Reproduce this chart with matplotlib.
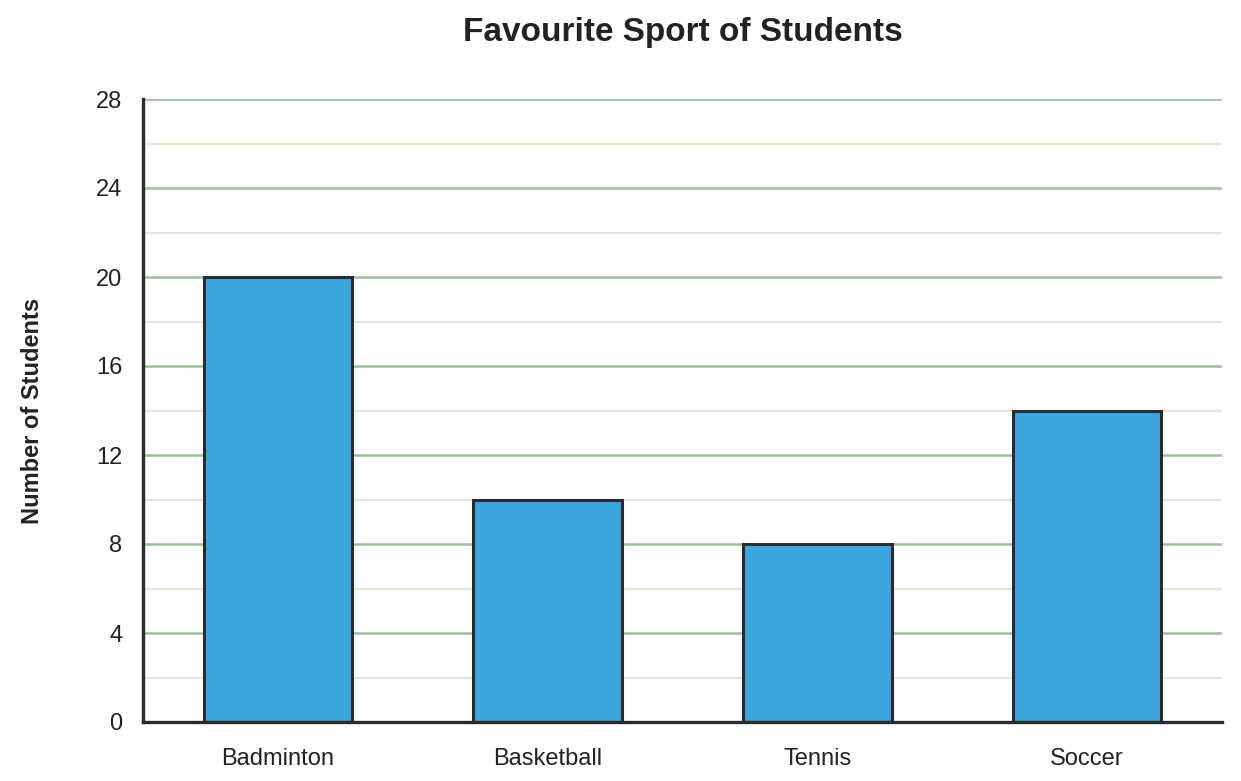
import matplotlib
matplotlib.use("Agg")
import matplotlib.pyplot as plt
from matplotlib.ticker import MultipleLocator

categories = ["Badminton", "Basketball", "Tennis", "Soccer"]
values = [20, 10, 8, 14]
yticks = [0, 4, 8, 12, 16, 20, 24, 28]

plt.rcParams['font.family'] = ['Liberation Sans', 'DejaVu Sans']

fig = plt.figure(figsize=(12.41, 7.81), dpi=100)
ax = fig.add_axes([143/1241, 59/781, 1079/1241, 623/781])

x = list(range(len(categories)))
ax.bar(x, values, width=0.55, color="#3ea6df", edgecolor="#2b2b2b", linewidth=2.2, zorder=3)

ax.set_xlim(-0.5, 3.5)
ax.set_ylim(0, 28)
ax.set_yticks(yticks)
ax.yaxis.set_minor_locator(MultipleLocator(2))
ax.set_xticks(x)
ax.set_xticklabels(categories)

ax.grid(axis='y', which='major', color="#9dc09d", linewidth=1.8, zorder=0)
ax.grid(axis='y', which='minor', color="#dde9d5", linewidth=1.5, zorder=0)
ax.grid(axis='x', visible=False)

for s in ["top", "right"]:
    ax.spines[s].set_visible(False)
for s in ["left", "bottom"]:
    ax.spines[s].set_color("#2b2b2b")
    ax.spines[s].set_linewidth(2.4)
    ax.spines[s].set_zorder(4)

ax.tick_params(axis='both', which='both', length=0, labelsize=17, colors="#222222")
ax.tick_params(axis='y', pad=15)
ax.tick_params(axis='x', pad=19)

ax.set_ylabel("Number of Students", fontsize=17, fontweight='bold', color="#222222", labelpad=37)
fig.suptitle("Favourite Sport of Students", x=683/1241, y=1-32/781, va='center', fontsize=24, fontweight='bold', color="#222222")

fig.savefig("out.png", dpi=100)
